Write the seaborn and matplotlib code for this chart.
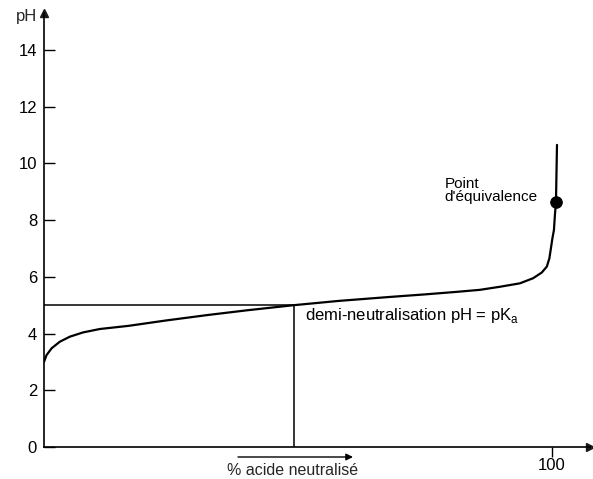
import matplotlib
matplotlib.use('Agg')
import matplotlib.pyplot as plt
import seaborn as sns
import pandas as pd

# titration curve (% acid neutralised, pH)
pct_neutralised = [0.0, 0.5, 1.5, 3.1, 5.1, 7.7, 11.0, 16.6, 24.0, 32.1, 40.0,
                   49.2, 58.0, 68.1, 75.0, 81.3, 85.8, 89.8, 93.7, 96.3, 98.0,
                   99.0, 99.5, 99.8, 100.1, 100.4, 100.6, 100.8, 101.0]
ph_values = [3.0, 3.24, 3.48, 3.71, 3.89, 4.04, 4.16, 4.27, 4.46, 4.65, 4.82,
             5.0, 5.15, 5.29, 5.38, 5.47, 5.54, 5.65, 5.77, 5.95, 6.15,
             6.36, 6.65, 7.0, 7.36, 7.65, 8.2, 8.64, 10.65]

half_x = 49.2
pka = 5.0
equiv_x = [100.8]
equiv_ph = [8.64]

y_ticks = [0, 2, 4, 6, 8, 10, 12, 14]
x_ticks = [100]

W, H = 593, 479

sns.set_theme(style='white')
plt.rcParams['font.family'] = ['Liberation Sans', 'DejaVu Sans']
plt.rcParams['mathtext.fontset'] = 'custom'
plt.rcParams['mathtext.rm'] = 'Liberation Sans'

fig = plt.figure(figsize=(W / 100, H / 100), dpi=100)
ax = fig.add_axes([44 / W, 32 / H, 546 / W, 434 / H])

df = pd.DataFrame({'x': pct_neutralised, 'ph': ph_values})
sns.lineplot(data=df, x='x', y='ph', sort=False, color='black', lw=1.6,
             solid_joinstyle='round', ax=ax)

# half neutralisation guide lines
ax.plot([0, half_x], [pka, pka], color='black', lw=1.1)
ax.plot([half_x, half_x], [0, pka], color='black', lw=1.1)

sns.scatterplot(x=equiv_x, y=equiv_ph, color='black', s=70, edgecolor='black',
                zorder=5, ax=ax)

ax.set_xlim(0, 107.5)
ax.set_ylim(0, 15.3)

for side in ['top', 'right']:
    ax.spines[side].set_visible(False)
for side in ['left', 'bottom']:
    ax.spines[side].set_color('black')
    ax.spines[side].set_linewidth(1.2)

# axis arrows
ax.plot(1, 0, '>k', ms=6, transform=ax.get_yaxis_transform(), clip_on=False)
ax.plot(0, 1, '^k', ms=6, transform=ax.get_xaxis_transform(), clip_on=False)

ax.set_yticks(y_ticks)
ax.set_xticks(x_ticks)
ax.tick_params(axis='y', direction='in', length=8, width=1, pad=5,
               labelsize=12, colors='black', left=True)
ax.tick_params(axis='x', direction='out', length=7, width=1, pad=1,
               labelsize=12, colors='black', bottom=True)
ax.set_xlabel('')
ax.set_ylabel('')

ax.text(51.4, 4.48, r'demi-neutralisation pH = pK$_{\mathrm{a}}$',
        fontsize=12, ha='left', va='baseline', color='black')
ax.text(78.9, 9.13, 'Point', fontsize=11, ha='left', va='baseline', color='black')
ax.text(78.9, 8.67, "d'équivalence", fontsize=11, ha='left', va='baseline',
        color='black')

fig.text(27 / W, 1 - 16 / H, 'pH', fontsize=12, ha='center', va='center')
fig.text(293 / W, 1 - 475 / H, '% acide neutralisé', fontsize=11.5,
         ha='center', va='baseline')
ax.annotate('', xy=(353 / W, 1 - 457 / H), xytext=(238 / W, 1 - 457 / H),
            xycoords='figure fraction', textcoords='figure fraction',
            arrowprops=dict(arrowstyle='-|>', lw=1, color='black',
                            mutation_scale=10, shrinkA=0, shrinkB=0))

fig.savefig('out.png', dpi=100, facecolor='white')
